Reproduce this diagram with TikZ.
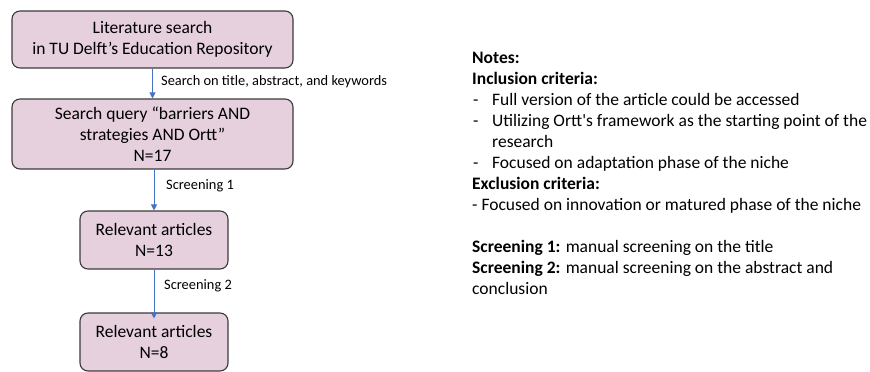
\documentclass[tikz,border=0pt]{standalone}
\usepackage{fontspec}
\setmainfont{Carlito}[Ligatures=TeXOff]
\usetikzlibrary{arrows.meta}
\definecolor{boxfill}{HTML}{E6D0DE}
\definecolor{boxline}{HTML}{3A3A3A}
\definecolor{flow}{HTML}{4472C4}
\begin{document}
\begin{tikzpicture}[x=1pt,y=-1pt,
  stepbox/.style={draw=boxline,fill=boxfill,line width=1.1pt,rounded corners=8pt,
    align=center,inner sep=0pt,font=\fontsize{17.5}{21}\selectfont},
  flowarrow/.style={draw=flow,line width=1pt,-{Triangle[length=6pt,width=6pt]}},
  steplabel/.style={font=\fontsize{14.4}{16}\selectfont,anchor=west,inner sep=0pt}]
\useasboundingbox (0,0) rectangle (870,372);

\node[stepbox,minimum width=281pt,minimum height=57pt] (b1) at (152.5,39.5)
  {Literature search\\in TU Delft’s Education Repository};
\node[stepbox,minimum width=281pt,minimum height=70pt] (b2) at (152.5,134)
  {Search query “barriers AND\\strategies AND Ortt”\\N=17};
\node[stepbox,minimum width=148pt,minimum height=58pt] (b3) at (154,240)
  {Relevant articles\\N=13};
\node[stepbox,minimum width=148pt,minimum height=58pt] (b4) at (154,342)
  {Relevant articles\\N=8};

\draw[flowarrow] (b1.south) -- (b2.north);
\draw[flowarrow] (b3.north |- b2.south) -- (b3.north);
\draw[flowarrow] (b3.south) -- ([yshift=-6pt]b4.north);

\node[steplabel] (l1) at (161,82) {Search on title, abstract, and keywords};
\node[steplabel] (l2) at (166,186) {Screening 1};
\node[steplabel] (l3) at (164,286) {Screening 2};

\node[anchor=north west,inner sep=0pt,align=left,font=\fontsize{17.5}{21}\selectfont] (notes) at (472,52)
  {\textbf{Notes:}\\
   \textbf{Inclusion criteria:}\\
   \makebox[20pt][l]{\hspace{1pt}-}Full version of the article could be accessed\\
   \makebox[20pt][l]{\hspace{1pt}-}Utilizing Ortt's framework as the starting point of the\\
   \hspace*{20pt}research\\
   \makebox[20pt][l]{\hspace{1pt}-}Focused on adaptation phase of the niche\\
   \textbf{Exclusion criteria:}\\
   - Focused on innovation or matured phase of the niche\\[21pt]
   \textbf{Screening 1:} manual screening on the title\\
   \textbf{Screening 2:} manual screening on the abstract and\\
   conclusion};
\end{tikzpicture}
\end{document}
